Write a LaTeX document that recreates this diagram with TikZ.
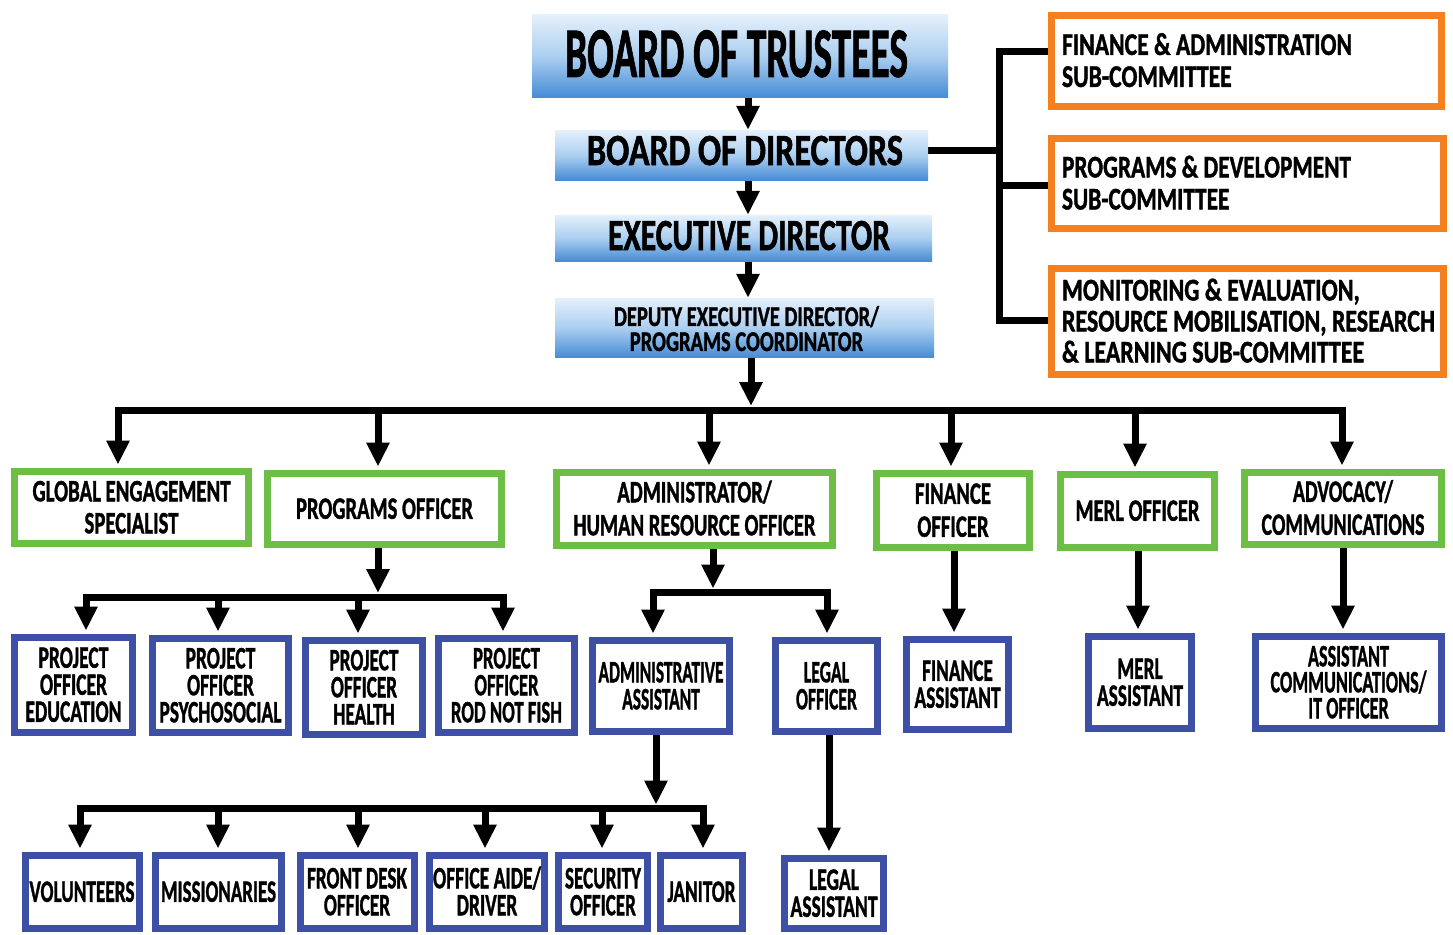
\documentclass[tikz,border=0pt]{standalone}
\usepackage{fontspec}
\setmainfont{Carlito}[FakeBold=1.5]
\usepackage{graphicx}
\usetikzlibrary{arrows.meta,backgrounds}
\definecolor{orng}{RGB}{245,128,32}
\definecolor{grn}{RGB}{108,190,69}
\definecolor{blu}{RGB}{62,80,165}
\definecolor{gtop}{RGB}{228,240,251}
\definecolor{gmid}{RGB}{172,207,240}
\definecolor{gbot}{RGB}{70,140,214}
% raise, width, size, baselineskip, lines-1, text
\newcommand\lblc[6]{\raisebox{#1}[\dimexpr #4pt*#5+#3pt*63/100\relax][0pt]{\resizebox{#2pt}{\height}{\fontsize{#3pt}{#4pt}\selectfont\bfseries\let\\\cr\vbox{\lineskiplimit=-\maxdimen\baselineskip=#4pt\relax\halign{\hfil##\hfil\cr#6\crcr}}}}}
\newcommand\lbll[6]{\raisebox{#1}[\dimexpr #4pt*#5+#3pt*63/100\relax][0pt]{\resizebox{#2pt}{\height}{\fontsize{#3pt}{#4pt}\selectfont\bfseries\let\\\cr\vbox{\lineskiplimit=-\maxdimen\baselineskip=#4pt\relax\halign{##\hfil\cr#6\crcr}}}}}
\newcommand\tc[5]{\lblc{0pt}{#1}{#2}{#3}{#4}{#5}}
\newcommand\tl[5]{\lbll{0pt}{#1}{#2}{#3}{#4}{#5}}
\tikzset{
  topbox/.style={rectangle, inner sep=0pt, top color=gtop, bottom color=gbot, middle color=gmid},
  ob/.style={rectangle, draw=orng, line width=7pt, fill=white, inner sep=0pt},
  gb/.style={rectangle, draw=grn, line width=7pt, fill=white, inner sep=0pt},
  bb/.style={rectangle, draw=blu, line width=7pt, fill=white, inner sep=0pt},
  conn/.style={line width=7pt, line join=miter, draw=black},
  sh/.style={shorten >=3.5pt},
  shb/.style={shorten >=3.5pt, shorten <=3.5pt},
}
\begin{document}
\begin{tikzpicture}[x=1pt,y=-1pt,>={Triangle[width=22pt,length=24pt]}]
\useasboundingbox (0,0) rectangle (1453,934);
\clip (0,0) rectangle (1453,934);
% top chain
\node[topbox, minimum width=416pt, minimum height=82pt] (bot) at (740,56) {\hspace*{-7pt}\lblc{1.5pt}{343}{71}{71}{0}{BOARD OF TRUSTEES}};
\node[topbox, minimum width=373pt, minimum height=50pt] (bod) at (741.5,155) {\hspace*{7pt}\lblc{4pt}{316}{44.5}{44.5}{0}{BOARD OF DIRECTORS}};
\node[topbox, minimum width=377pt, minimum height=46pt] (ed) at (743.5,238) {\hspace*{11pt}\lblc{2pt}{282}{44.5}{44.5}{0}{EXECUTIVE DIRECTOR}};
\node[topbox, minimum width=379pt, minimum height=59pt] (ded) at (744.5,327.5) {\hspace*{4pt}\lblc{-2pt}{265}{28.5}{25}{1}{DEPUTY EXECUTIVE DIRECTOR/\\PROGRAMS COORDINATOR}};
% committees
\node[ob, minimum width=390pt, minimum height=91pt] (fa) at (1246.5,61) {\makebox[369pt][l]{\tl{290}{31.5}{32}{1}{FINANCE \& ADMINISTRATION\\SUB-COMMITTEE}}};
\node[ob, minimum width=392pt, minimum height=90pt] (pdc) at (1247.5,183.5) {\makebox[371pt][l]{\tl{289}{31.5}{32}{1}{PROGRAMS \& DEVELOPMENT\\SUB-COMMITTEE}}};
\node[ob, minimum width=392pt, minimum height=106pt] (me) at (1247.5,321.5) {\makebox[371pt][l]{\tl{373}{31.5}{31}{2}{MONITORING \& EVALUATION,\\RESOURCE MOBILISATION, RESEARCH\\\& LEARNING SUB-COMMITTEE}}};
% green row
\node[gb, minimum width=234pt, minimum height=72pt] (ged) at (131.5,507.5) {\tc{198}{31}{32}{1}{GLOBAL ENGAGEMENT\\SPECIALIST}};
\node[gb, minimum width=234pt, minimum height=71pt] (po) at (384.5,509) {\tc{177}{31}{32}{0}{PROGRAMS OFFICER}};
\node[gb, minimum width=276pt, minimum height=73pt] (ahr) at (694.5,509) {\tc{242}{31}{33}{1}{ADMINISTRATOR/\\HUMAN RESOURCE OFFICER}};
\node[gb, minimum width=153pt, minimum height=74pt] (fo) at (953,510.5) {\tc{76}{31}{33}{1}{FINANCE\\OFFICER}};
\node[gb, minimum width=154pt, minimum height=73pt] (merl) at (1137.5,511) {\tc{124}{31}{32}{0}{MERL OFFICER}};
\node[gb, minimum width=197pt, minimum height=72pt] (adv) at (1343,508.5) {\tc{163}{31}{33}{1}{ADVOCACY/\\COMMUNICATIONS}};
% blue row 1
\node[bb, minimum width=118pt, minimum height=95pt] (pe) at (73.5,685) {\tc{96}{31}{27}{2}{PROJECT\\OFFICER\\EDUCATION}};
\node[bb, minimum width=136pt, minimum height=94pt] (pp) at (220.5,685.5) {\tc{122}{31}{27}{2}{PROJECT\\OFFICER\\PSYCHOSOCIAL}};
\node[bb, minimum width=117pt, minimum height=94pt] (ph) at (364,687.5) {\tc{69}{31}{27}{2}{PROJECT\\OFFICER\\HEALTH}};
\node[bb, minimum width=136pt, minimum height=94pt] (pr) at (506.5,685.5) {\tc{111}{31}{27}{2}{PROJECT\\OFFICER\\ROD NOT FISH}};
\node[bb, minimum width=137pt, minimum height=91pt] (aa) at (661,686) {\tc{125}{31}{27}{1}{ADMINISTRATIVE\\ASSISTANT}};
\node[bb, minimum width=102pt, minimum height=91pt] (lo) at (826.5,686) {\tc{61}{31}{27}{1}{LEGAL\\OFFICER}};
\node[bb, minimum width=102pt, minimum height=90pt] (fas) at (957.5,684.5) {\tc{86}{31}{27}{1}{FINANCE\\ASSISTANT}};
\node[bb, minimum width=103pt, minimum height=92pt] (mas) at (1140,682.5) {\tc{86}{31}{27}{1}{MERL\\ASSISTANT}};
\node[bb, minimum width=186pt, minimum height=92pt] (ac) at (1348.5,682.5) {\tc{156}{31}{26}{2}{ASSISTANT\\COMMUNICATIONS/\\IT OFFICER}};
% bottom row
\node[bb, minimum width=114pt, minimum height=73pt] (vol) at (82,892) {\tc{105}{31}{27}{0}{VOLUNTEERS}};
\node[bb, minimum width=126pt, minimum height=73pt] (mis) at (218.5,892) {\tc{115}{31}{27}{0}{MISSIONARIES}};
\node[bb, minimum width=114pt, minimum height=73pt] (fd) at (357,892) {\tc{100}{31}{27}{1}{FRONT DESK\\OFFICER}};
\node[bb, minimum width=115pt, minimum height=73pt] (oa) at (487,892) {\tc{108}{31}{27}{1}{OFFICE AIDE/\\DRIVER}};
\node[bb, minimum width=89pt, minimum height=73pt] (sec) at (603,892) {\tc{76}{31}{27}{1}{SECURITY\\OFFICER}};
\node[bb, minimum width=82pt, minimum height=73pt] (jan) at (701.5,892) {\tc{68}{31}{27}{0}{JANITOR}};
\node[bb, minimum width=99pt, minimum height=70pt] (la) at (834,893.5) {\tc{87}{31}{27}{1}{LEGAL\\ASSISTANT}};
% junction points
\coordinate (ax) at (748,0);
\coordinate (rj) at (999,150);
\coordinate (r1) at (999,52);
\coordinate (r2) at (999,185);
\coordinate (r3) at (999,320);
\coordinate (md) at (751,406);
\coordinate (m1) at (118,410);
\coordinate (m2) at (378,410);
\coordinate (m3) at (709,410);
\coordinate (m4) at (951,410);
\coordinate (m5) at (1135,410);
\coordinate (m6) at (1342,410);
\coordinate (pd0) at (378,593);
\coordinate (p1) at (86,597);
\coordinate (p2) at (218,597);
\coordinate (p3) at (358,597);
\coordinate (p4) at (503,597);
\coordinate (ad0) at (713,588.5);
\coordinate (a1) at (653,592);
\coordinate (a2) at (827,592);
\coordinate (f1) at (954,0);
\coordinate (f2) at (1138,0);
\coordinate (f3) at (1343,0);
\coordinate (s0) at (656,804.5);
\coordinate (s1) at (80,808);
\coordinate (s2) at (218,808);
\coordinate (s3) at (358,808);
\coordinate (s4) at (485,808);
\coordinate (s5) at (602,808);
\coordinate (s6) at (703,808);
\coordinate (l1) at (829,0);
\begin{scope}[on background layer]
\fill[white] (0,0) rectangle (1453,934);
\draw[conn,->] (bot.south -| ax) -- (bod.north -| ax);
\draw[conn,->] (bod.south -| ax) -- (ed.north -| ax);
\draw[conn,->] (ed.south -| ax) -- (ded.north -| ax);
\draw[conn] (fa.west |- r1) -- (r1) -- (r3) -- (me.west |- r3);
\draw[conn] (r2) -- (pdc.west |- r2);
\draw[conn] (bod.east |- rj) -- (rj);
% main bus
\draw[conn,->] (ded.south -| md) -- (md);
\draw[conn,<->,shb] (m1 |- ged.north) -- (m1) -- (m6) -- (m6 |- adv.north);
\draw[conn,->,sh] (m2) -- (m2 |- po.north);
\draw[conn,->,sh] (m3) -- (m3 |- ahr.north);
\draw[conn,->,sh] (m4) -- (m4 |- fo.north);
\draw[conn,->,sh] (m5) -- (m5 |- merl.north);
% programs bus
\draw[conn,->] (po.south -| pd0) -- (pd0);
\draw[conn,<->,shb] (p1 |- pe.north) -- (p1) -- (p4) -- (p4 |- pr.north);
\draw[conn,->,sh] (p2) -- (p2 |- pp.north);
\draw[conn,->,sh] (p3) -- (p3 |- ph.north);
% admin bus
\draw[conn,->] (ahr.south -| ad0) -- (ad0);
\draw[conn,<->,shb] (a1 |- aa.north) -- (a1) -- (a2) -- (a2 |- lo.north);
% single drops
\draw[conn,->,sh] (fo.south -| f1) -- (fas.north -| f1);
\draw[conn,->,sh] (merl.south -| f2) -- (mas.north -| f2);
\draw[conn,->,sh] (adv.south -| f3) -- (ac.north -| f3);
\draw[conn,->,sh] (lo.south -| l1) -- (la.north -| l1);
% support bus
\draw[conn,->] (aa.south -| s0) -- (s0);
\draw[conn,<->,shb] (s1 |- vol.north) -- (s1) -- (s6) -- (s6 |- jan.north);
\draw[conn,->,sh] (s2) -- (s2 |- mis.north);
\draw[conn,->,sh] (s3) -- (s3 |- fd.north);
\draw[conn,->,sh] (s4) -- (s4 |- oa.north);
\draw[conn,->,sh] (s5) -- (s5 |- sec.north);
\end{scope}
\end{tikzpicture}
\end{document}
